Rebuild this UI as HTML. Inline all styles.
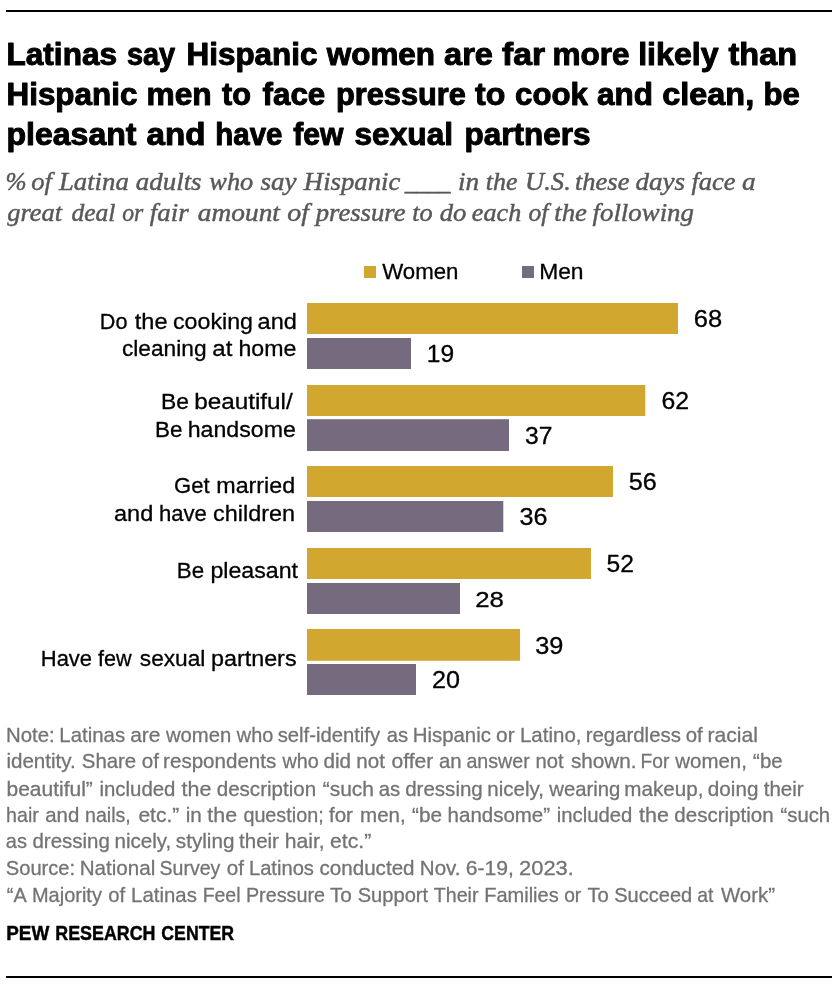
<!DOCTYPE html>
<html lang="en">
<head>
<meta charset="utf-8">
<title>Latinas say Hispanic women are far more likely than Hispanic men to face pressure</title>
<style>
html,body{margin:0;padding:0;background:#ffffff;}
body{width:840px;height:990px;overflow:hidden;font-family:"Liberation Sans",Arial,sans-serif;}
svg{display:block;}
text{white-space:pre;}
</style>
</head>
<body>
<svg width="840" height="990" viewBox="0 0 840 990" role="img" aria-label="Bar chart: pressures Latinas say Hispanic women and men face">
<rect x="0" y="0" width="840" height="990" fill="#ffffff"/>
<g id="rules-and-bars" shape-rendering="auto">
<rect x="6" y="10" width="826" height="2" fill="#000000"/>
<rect x="6" y="976" width="826" height="2" fill="#000000"/>
<rect x="364" y="266" width="12" height="12" fill="#d1a730"/>
<rect x="522" y="266" width="12" height="12" fill="#756a7e"/>
<rect x="307" y="303" width="371" height="31" fill="#d1a730"/>
<rect x="307" y="338" width="104" height="31" fill="#756a7e"/>
<rect x="307" y="385" width="338.3" height="31" fill="#d1a730"/>
<rect x="307" y="419.2" width="202" height="31.8" fill="#756a7e"/>
<rect x="307" y="466" width="306" height="31" fill="#d1a730"/>
<rect x="307" y="501" width="196.3" height="31" fill="#756a7e"/>
<rect x="307" y="548" width="284" height="31" fill="#d1a730"/>
<rect x="307" y="583" width="153" height="31" fill="#756a7e"/>
<rect x="307" y="629" width="213" height="31.8" fill="#d1a730"/>
<rect x="307" y="664" width="109" height="31" fill="#756a7e"/>
</g>
<g font-family='"Liberation Sans", sans-serif' font-size="31.4" font-weight="bold" stroke="#000000" stroke-width="1" stroke-linejoin="round" fill="#000000">
<text transform="matrix(1.0060 0 0 1 6.49 65.40)">Latinas</text>
<text transform="matrix(0.9187 0 0 1 127.04 65.40)">say</text>
<text transform="matrix(1.0016 0 0 1 186.50 65.40)">Hispanic</text>
<text transform="matrix(1.0023 0 0 1 326.70 65.40)">women</text>
<text transform="matrix(1.0370 0 0 1 444.08 65.40)">are</text>
<text transform="matrix(1.0733 0 0 1 502.10 65.40)">far</text>
<text transform="matrix(1.0047 0 0 1 552.49 65.40)">more</text>
<text transform="matrix(1.0221 0 0 1 638.21 65.40)">likely</text>
<text transform="matrix(1.0338 0 0 1 728.56 65.40)">than</text>
</g>
<g font-family='"Liberation Sans", sans-serif' font-size="31.4" font-weight="bold" stroke="#000000" stroke-width="1" stroke-linejoin="round" fill="#000000">
<text transform="matrix(1.0000 0 0 1 6.50 105.00)">Hispanic</text>
<text transform="matrix(1.0105 0 0 1 146.48 105.00)">men</text>
<text transform="matrix(0.9778 0 0 1 222.04 105.00)">to</text>
<text transform="matrix(0.9992 0 0 1 262.50 105.00)">face</text>
<text transform="matrix(0.9793 0 0 1 336.03 105.00)">pressure</text>
<text transform="matrix(1.0222 0 0 1 475.06 105.00)">to</text>
<text transform="matrix(0.9932 0 0 1 515.06 105.00)">cook</text>
<text transform="matrix(1.0028 0 0 1 597.00 105.00)">and</text>
<text transform="matrix(1.0329 0 0 1 662.23 105.00)">clean,</text>
<text transform="matrix(0.9913 0 0 1 763.51 105.00)">be</text>
</g>
<g font-family='"Liberation Sans", sans-serif' font-size="31.4" font-weight="bold" stroke="#000000" stroke-width="1" stroke-linejoin="round" fill="#000000">
<text transform="matrix(1.0214 0 0 1 6.47 144.90)">pleasant</text>
<text transform="matrix(1.0567 0 0 1 146.47 144.90)">and</text>
<text transform="matrix(0.9386 0 0 1 215.36 144.90)">have</text>
<text transform="matrix(0.9604 0 0 1 293.30 144.90)">few</text>
<text transform="matrix(1.0084 0 0 1 354.50 144.90)">sexual</text>
<text transform="matrix(1.0037 0 0 1 464.49 144.90)">partners</text>
</g>
<g font-family='"Liberation Serif", serif' font-size="24.8" font-style="italic" stroke="#585858" stroke-width="0.45" stroke-linejoin="round" fill="#585858">
<text transform="matrix(1.0203 0 0 1 5.56 189.60)">%</text>
<text transform="matrix(1.0722 0 0 1 31.15 189.60)">of</text>
<text transform="matrix(1.0792 0 0 1 58.89 189.60)">Latina</text>
<text transform="matrix(1.0846 0 0 1 135.85 189.60)">adults</text>
<text transform="matrix(1.0613 0 0 1 209.34 189.60)">who</text>
<text transform="matrix(1.0898 0 0 1 260.38 189.60)">say</text>
<text transform="matrix(1.0771 0 0 1 303.87 189.60)">Hispanic</text>
<text transform="matrix(0.9228 0 0 1 404.66 189.60)">____</text>
<text transform="matrix(1.0991 0 0 1 457.90 189.60)">in</text>
<text transform="matrix(1.0455 0 0 1 485.77 189.60)">the</text>
<text transform="matrix(1.0720 0 0 1 525.04 189.60)">U.S.</text>
<text transform="matrix(1.0697 0 0 1 574.95 189.60)">these</text>
<text transform="matrix(1.0929 0 0 1 635.39 189.60)">days</text>
<text transform="matrix(1.0700 0 0 1 691.47 189.60)">face</text>
<text transform="matrix(1.1020 0 0 1 742.00 189.60)">a</text>
</g>
<g font-family='"Liberation Serif", serif' font-size="24.8" font-style="italic" stroke="#585858" stroke-width="0.45" stroke-linejoin="round" fill="#585858">
<text transform="matrix(1.0677 0 0 1 7.24 221.30)">great</text>
<text transform="matrix(1.0318 0 0 1 71.42 221.30)">deal</text>
<text transform="matrix(0.9552 0 0 1 122.13 221.30)">or</text>
<text transform="matrix(1.0829 0 0 1 149.87 221.30)">fair</text>
<text transform="matrix(1.1034 0 0 1 197.86 221.30)">amount</text>
<text transform="matrix(1.1293 0 0 1 287.15 221.30)">of</text>
<text transform="matrix(1.0760 0 0 1 315.65 221.30)">pressure</text>
<text transform="matrix(1.0594 0 0 1 412.17 221.30)">to</text>
<text transform="matrix(1.0730 0 0 1 439.77 221.30)">do</text>
<text transform="matrix(1.0556 0 0 1 471.86 221.30)">each</text>
<text transform="matrix(1.0295 0 0 1 528.54 221.30)">of</text>
<text transform="matrix(1.0805 0 0 1 554.24 221.30)">the</text>
<text transform="matrix(1.0833 0 0 1 592.49 221.30)">following</text>
</g>
<g font-family='"Liberation Sans", sans-serif' font-size="22.6" stroke="#000000" stroke-width="0.3" stroke-linejoin="round" fill="#000000">
<text transform="matrix(0.9849 0 0 1 382.20 278.80)">Women</text>
<text transform="matrix(1.0098 0 0 1 539.13 278.80)">Men</text>
</g>
<g font-family='"Liberation Sans", sans-serif' font-size="22.3" stroke="#000000" stroke-width="0.3" stroke-linejoin="round" fill="#000000">
<text transform="matrix(0.9692 0 0 1 99.80 328.50)">Do</text>
<text transform="matrix(1.0567 0 0 1 134.74 328.50)">the</text>
<text transform="matrix(1.0408 0 0 1 173.02 328.50)">cooking</text>
<text transform="matrix(1.0553 0 0 1 257.61 328.50)">and</text>
</g>
<g font-family='"Liberation Sans", sans-serif' font-size="22.3" stroke="#000000" stroke-width="0.3" stroke-linejoin="round" fill="#000000">
<text transform="matrix(1.0185 0 0 1 121.94 355.90)">cleaning</text>
<text transform="matrix(1.0761 0 0 1 212.29 355.90)">at</text>
<text transform="matrix(1.0381 0 0 1 238.50 355.90)">home</text>
</g>
<g font-family='"Liberation Sans", sans-serif' font-size="22.3" stroke="#000000" stroke-width="0.3" stroke-linejoin="round" fill="#000000">
<text transform="matrix(1.0263 0 0 1 161.00 409.40)">Be</text>
<text transform="matrix(1.0894 0 0 1 194.14 409.40)">beautiful/</text>
</g>
<g font-family='"Liberation Sans", sans-serif' font-size="22.3" stroke="#000000" stroke-width="0.3" stroke-linejoin="round" fill="#000000">
<text transform="matrix(1.0061 0 0 1 155.04 437.20)">Be</text>
<text transform="matrix(1.0392 0 0 1 187.70 437.20)">handsome</text>
</g>
<g font-family='"Liberation Sans", sans-serif' font-size="22.3" stroke="#000000" stroke-width="0.3" stroke-linejoin="round" fill="#000000">
<text transform="matrix(0.9886 0 0 1 174.11 493.40)">Get</text>
<text transform="matrix(1.0438 0 0 1 216.30 493.40)">married</text>
</g>
<g font-family='"Liberation Sans", sans-serif' font-size="22.3" stroke="#000000" stroke-width="0.3" stroke-linejoin="round" fill="#000000">
<text transform="matrix(1.0553 0 0 1 114.01 520.90)">and</text>
<text transform="matrix(0.9903 0 0 1 158.96 520.90)">have</text>
<text transform="matrix(1.0513 0 0 1 213.11 520.90)">children</text>
</g>
<g font-family='"Liberation Sans", sans-serif' font-size="22.3" stroke="#000000" stroke-width="0.3" stroke-linejoin="round" fill="#000000">
<text transform="matrix(1.0020 0 0 1 176.75 578.30)">Be</text>
<text transform="matrix(1.0398 0 0 1 210.40 578.30)">pleasant</text>
</g>
<g font-family='"Liberation Sans", sans-serif' font-size="22.3" stroke="#000000" stroke-width="0.3" stroke-linejoin="round" fill="#000000">
<text transform="matrix(0.9859 0 0 1 40.77 666.40)">Have</text>
<text transform="matrix(0.9698 0 0 1 98.06 666.40)">few</text>
<text transform="matrix(1.0183 0 0 1 139.79 666.40)">sexual</text>
<text transform="matrix(1.0462 0 0 1 210.99 666.40)">partners</text>
</g>
<g font-family='"Liberation Sans", sans-serif' font-size="23" stroke="#000000" stroke-width="0.3" stroke-linejoin="round" fill="#000000">
<text transform="matrix(1.1129 0 0 1 693.77 326.80)">68</text>
<text transform="matrix(1.0697 0 0 1 426.81 362.00)">19</text>
<text transform="matrix(1.0814 0 0 1 661.38 409.00)">62</text>
<text transform="matrix(1.0729 0 0 1 525.12 443.70)">37</text>
<text transform="matrix(1.0948 0 0 1 628.69 490.00)">56</text>
<text transform="matrix(1.0948 0 0 1 519.39 525.00)">36</text>
<text transform="matrix(1.0729 0 0 1 606.62 572.00)">52</text>
<text transform="matrix(1.1223 0 0 1 475.20 607.00)">28</text>
<text transform="matrix(1.1011 0 0 1 535.21 653.50)">39</text>
<text transform="matrix(1.0948 0 0 1 432.02 688.00)">20</text>
</g>
<g font-family='"Liberation Sans", sans-serif' font-size="20.7" stroke="#737373" stroke-width="0.3" stroke-linejoin="round" fill="#737373">
<text transform="matrix(0.9846 0 0 1 6.00 741.80)">Note:</text>
<text transform="matrix(0.9869 0 0 1 59.32 741.80)">Latinas</text>
<text transform="matrix(1.0151 0 0 1 130.17 741.80)">are</text>
<text transform="matrix(0.9791 0 0 1 165.96 741.80)">women</text>
<text transform="matrix(0.9627 0 0 1 236.79 741.80)">who</text>
<text transform="matrix(0.9784 0 0 1 277.66 741.80)">self-identify</text>
<text transform="matrix(0.9785 0 0 1 386.74 741.80)">as</text>
<text transform="matrix(0.9852 0 0 1 412.70 741.80)">Hispanic</text>
<text transform="matrix(1.0095 0 0 1 496.11 741.80)">or</text>
<text transform="matrix(0.9904 0 0 1 519.95 741.80)">Latino,</text>
<text transform="matrix(0.9845 0 0 1 585.73 741.80)">regardless</text>
<text transform="matrix(0.9856 0 0 1 685.76 741.80)">of</text>
<text transform="matrix(1.0221 0 0 1 707.40 741.80)">racial</text>
</g>
<g font-family='"Liberation Sans", sans-serif' font-size="20.7" stroke="#737373" stroke-width="0.3" stroke-linejoin="round" fill="#737373">
<text transform="matrix(0.9956 0 0 1 6.38 768.40)">identity.</text>
<text transform="matrix(0.9857 0 0 1 81.77 768.40)">Share</text>
<text transform="matrix(0.9939 0 0 1 141.78 768.40)">of</text>
<text transform="matrix(0.9935 0 0 1 163.12 768.40)">respondents</text>
<text transform="matrix(0.9560 0 0 1 282.56 768.40)">who</text>
<text transform="matrix(0.9976 0 0 1 323.51 768.40)">did</text>
<text transform="matrix(0.9962 0 0 1 356.31 768.40)">not</text>
<text transform="matrix(1.0203 0 0 1 391.48 768.40)">offer</text>
<text transform="matrix(0.9819 0 0 1 438.95 768.40)">an</text>
<text transform="matrix(0.9498 0 0 1 466.41 768.40)">answer</text>
<text transform="matrix(0.9771 0 0 1 535.54 768.40)">not</text>
<text transform="matrix(1.0015 0 0 1 570.88 768.40)">shown.</text>
<text transform="matrix(0.9277 0 0 1 640.54 768.40)">For</text>
<text transform="matrix(0.9877 0 0 1 675.28 768.40)">women,</text>
<text transform="matrix(0.9844 0 0 1 753.11 768.40)">“be</text>
</g>
<g font-family='"Liberation Sans", sans-serif' font-size="20.7" stroke="#737373" stroke-width="0.3" stroke-linejoin="round" fill="#737373">
<text transform="matrix(1.0150 0 0 1 6.48 795.60)">beautiful”</text>
<text transform="matrix(0.9857 0 0 1 99.43 795.60)">included</text>
<text transform="matrix(1.0355 0 0 1 181.62 795.60)">the</text>
<text transform="matrix(0.9943 0 0 1 216.71 795.60)">description</text>
<text transform="matrix(1.0146 0 0 1 322.64 795.60)">“such</text>
<text transform="matrix(0.9810 0 0 1 378.71 795.60)">as</text>
<text transform="matrix(0.9919 0 0 1 405.19 795.60)">dressing</text>
<text transform="matrix(0.9931 0 0 1 487.22 795.60)">nicely,</text>
<text transform="matrix(0.9814 0 0 1 549.26 795.60)">wearing</text>
<text transform="matrix(0.9964 0 0 1 624.34 795.60)">makeup,</text>
<text transform="matrix(0.9985 0 0 1 707.86 795.60)">doing</text>
<text transform="matrix(0.9927 0 0 1 763.72 795.60)">their</text>
</g>
<g font-family='"Liberation Sans", sans-serif' font-size="20.7" stroke="#737373" stroke-width="0.3" stroke-linejoin="round" fill="#737373">
<text transform="matrix(0.9485 0 0 1 6.11 821.50)">hair</text>
<text transform="matrix(0.9873 0 0 1 45.27 821.50)">and</text>
<text transform="matrix(0.9468 0 0 1 85.03 821.50)">nails,</text>
<text transform="matrix(1.0156 0 0 1 138.43 821.50)">etc.”</text>
<text transform="matrix(0.9992 0 0 1 185.78 821.50)">in</text>
<text transform="matrix(1.0353 0 0 1 207.28 821.50)">the</text>
<text transform="matrix(0.9559 0 0 1 243.38 821.50)">question;</text>
<text transform="matrix(0.9934 0 0 1 328.93 821.50)">for</text>
<text transform="matrix(0.9913 0 0 1 360.10 821.50)">men,</text>
<text transform="matrix(1.0056 0 0 1 412.09 821.50)">“be</text>
<text transform="matrix(0.9895 0 0 1 447.62 821.50)">handsome”</text>
<text transform="matrix(0.9810 0 0 1 556.71 821.50)">included</text>
<text transform="matrix(1.0380 0 0 1 638.99 821.50)">the</text>
<text transform="matrix(0.9915 0 0 1 674.35 821.50)">description</text>
<text transform="matrix(0.9812 0 0 1 780.47 821.50)">“such</text>
</g>
<g font-family='"Liberation Sans", sans-serif' font-size="20.7" stroke="#737373" stroke-width="0.3" stroke-linejoin="round" fill="#737373">
<text transform="matrix(0.9667 0 0 1 5.87 847.90)">as</text>
<text transform="matrix(0.9904 0 0 1 32.45 847.90)">dressing</text>
<text transform="matrix(0.9963 0 0 1 114.43 847.90)">nicely,</text>
<text transform="matrix(0.9998 0 0 1 175.81 847.90)">styling</text>
<text transform="matrix(0.9894 0 0 1 239.09 847.90)">their</text>
<text transform="matrix(1.0214 0 0 1 284.76 847.90)">hair,</text>
<text transform="matrix(1.0247 0 0 1 330.00 847.90)">etc.”</text>
</g>
<g font-family='"Liberation Sans", sans-serif' font-size="20.7" stroke="#737373" stroke-width="0.3" stroke-linejoin="round" fill="#737373">
<text transform="matrix(0.9733 0 0 1 5.76 875.20)">Source:</text>
<text transform="matrix(0.9954 0 0 1 79.75 875.20)">National</text>
<text transform="matrix(0.9440 0 0 1 159.60 875.20)">Survey</text>
<text transform="matrix(0.9957 0 0 1 226.76 875.20)">of</text>
<text transform="matrix(0.9742 0 0 1 248.95 875.20)">Latinos</text>
<text transform="matrix(0.9955 0 0 1 319.51 875.20)">conducted</text>
<text transform="matrix(0.9930 0 0 1 419.82 875.20)">Nov.</text>
<text transform="matrix(1.0221 0 0 1 465.66 875.20)">6-19,</text>
<text transform="matrix(1.0589 0 0 1 519.08 875.20)">2023.</text>
</g>
<g font-family='"Liberation Sans", sans-serif' font-size="20.7" stroke="#737373" stroke-width="0.3" stroke-linejoin="round" fill="#737373">
<text transform="matrix(0.9602 0 0 1 6.80 901.60)">“A</text>
<text transform="matrix(0.9664 0 0 1 31.94 901.60)">Majority</text>
<text transform="matrix(0.9805 0 0 1 108.30 901.60)">of</text>
<text transform="matrix(0.9853 0 0 1 131.12 901.60)">Latinas</text>
<text transform="matrix(0.9416 0 0 1 202.63 901.60)">Feel</text>
<text transform="matrix(0.9563 0 0 1 245.92 901.60)">Pressure</text>
<text transform="matrix(1.0022 0 0 1 329.88 901.60)">To</text>
<text transform="matrix(0.9714 0 0 1 357.72 901.60)">Support</text>
<text transform="matrix(0.9476 0 0 1 433.81 901.60)">Their</text>
<text transform="matrix(0.9677 0 0 1 484.16 901.60)">Families</text>
<text transform="matrix(0.9272 0 0 1 564.19 901.60)">or</text>
<text transform="matrix(0.9810 0 0 1 587.40 901.60)">To</text>
<text transform="matrix(0.9688 0 0 1 614.20 901.60)">Succeed</text>
<text transform="matrix(0.9370 0 0 1 697.32 901.60)">at</text>
<text transform="matrix(0.9868 0 0 1 720.98 901.60)">Work”</text>
</g>
<g font-family='"Liberation Sans", sans-serif' font-size="20.3" font-weight="bold" stroke="#000000" stroke-width="0.45" stroke-linejoin="round" fill="#000000">
<text transform="matrix(0.9319 0 0 1 6.17 939.50)">PEW</text>
<text transform="matrix(0.8796 0 0 1 55.32 939.50)">RESEARCH</text>
<text transform="matrix(0.8701 0 0 1 161.36 939.50)">CENTER</text>
</g>
</svg>
</body>
</html>
